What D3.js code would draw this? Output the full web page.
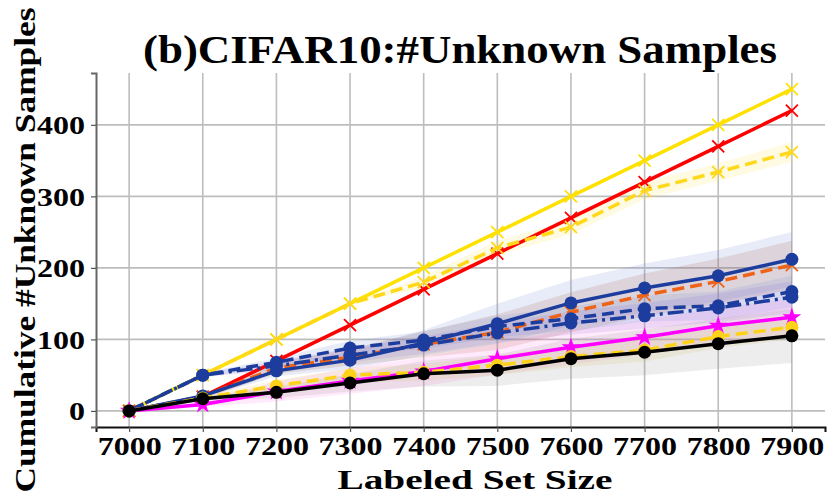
<!DOCTYPE html>
<html>
<head>
<meta charset="utf-8">
<script src="https://cdn.jsdelivr.net/npm/d3@7"></script>
<style>
  body { margin: 0; background: #fff; }
  text { font-family: "Liberation Serif", "DejaVu Serif", serif; font-weight: bold; fill: #000; }
</style>
</head>
<body>
<div class="chart"></div>
<script>
// Data
const sizes = [7000, 7100, 7200, 7300, 7400, 7500, 7600, 7700, 7800, 7900];
const yTicks = [0, 100, 200, 300, 400];

const yellowSolid = [0, 50, 100, 150, 200, 250, 300, 350, 400, 450];
const redSolid = [0, 20, 70, 120, 170, 220, 270, 320, 370, 420];
const yellowDashX = [0, 50, 100, 150, 180, 228, 257, 308, 334, 362];
const yellowDashXStd = [0, 0, 0, 0, 8, 10, 10, 12, 12, 14];
const orangeDash = [0, 20, 60, 75, 93, 110, 138, 162, 181, 204];
const orangeStd = [0, 3, 8, 12, 18, 25, 28, 30, 32, 34];
const blueSolid = [0, 21, 56, 71, 95, 122, 151, 172, 189, 212];
const blueSolidStd = [0, 3, 8, 12, 18, 28, 32, 34, 36, 38];
const blueDashed = [0, 50, 68, 88, 99, 118, 129, 143, 147, 167];
const blueDashedStd = [0, 3, 6, 10, 12, 15, 17, 18, 20, 22];
const blueDashDot = [0, 50, 63, 78, 92, 109, 123, 133, 144, 159];
const blueDashDotStd = [0, 3, 6, 10, 12, 14, 16, 18, 20, 22];
const magenta = [0, 9, 27, 42, 55, 73, 89, 103, 119, 131];
const magentaStd = [0, 3, 14, 18, 20, 22, 24, 24, 25, 26];
const yellowDot = [0, 18, 35, 50, 54, 64, 76, 85, 104, 117];
const yellowDotStd = [0, 3, 8, 10, 12, 14, 15, 16, 16, 17];
const black = [0, 17, 26, 39, 52, 57, 73, 82, 94, 105];
const blackStd = [0, 3, 8, 12, 18, 22, 28, 32, 35, 38];

const W = 831, H = 501;
const margin = { top: 73, right: 6, bottom: 74, left: 96 };
const width = W - margin.left - margin.right;
const height = H - margin.top - margin.bottom;

const root = d3.select('.chart').append('svg')
    .attr('width', W).attr('height', H);
const svg = root.append('g')
    .attr('transform', `translate(${margin.left},${margin.top})`);

const x = d3.scaleLinear().domain([6955, 7945]).range([0, width]);
const y = d3.scaleLinear().domain([-22.5, 472.5]).range([height, 0]);

// grid
svg.append('g').selectAll('line').data(sizes).join('line')
    .attr('x1', d => x(d)).attr('x2', d => x(d))
    .attr('y1', 0).attr('y2', height)
    .attr('stroke', '#bdbdbd').attr('stroke-width', 1.6);
svg.append('g').selectAll('line').data(yTicks).join('line')
    .attr('x1', 0).attr('x2', width)
    .attr('y1', d => y(d)).attr('y2', d => y(d))
    .attr('stroke', '#bdbdbd').attr('stroke-width', 1.6);

// series: bands first, then lines
const series = [
  { v: yellowSolid, color: '#ffe100', dash: null, marker: 'x' },
  { v: redSolid, color: '#ff0000', dash: null, marker: 'x' },
  { v: yellowDashX, s: yellowDashXStd, color: '#ffd81a', band: '#ffe14a', dash: '12,6', marker: 'x' },
  { v: orangeDash, s: orangeStd, color: '#ee6318', band: '#b0502a', dash: '12,6', marker: 'x' },
  { v: blueSolid, s: blueSolidStd, color: '#1c3d9e', band: '#6f86d6', dash: null, marker: 'o' },
  { v: blueDashed, s: blueDashedStd, color: '#1c3d9e', band: '#6f86d6', dash: '12,6', marker: 'o' },
  { v: blueDashDot, s: blueDashDotStd, color: '#1c3d9e', band: '#8a70d8', dash: '16,5,3,5', marker: 'o' },
  { v: magenta, s: magentaStd, color: '#ff00ff', band: '#ff7fe8', dash: null, marker: 'star' },
  { v: yellowDot, s: yellowDotStd, color: '#ffd21a', band: '#d8c860', dash: '12,6', marker: 'o' },
  { v: black, s: blackStd, color: '#000000', band: '#909090', dash: null, marker: 'o' }
];

const area = d3.area()
    .x((d, i) => x(sizes[i]))
    .y0(d => y(d[0] - d[1]))
    .y1(d => y(d[0] + d[1]));
const line = d3.line()
    .x((d, i) => x(sizes[i]))
    .y(d => y(d));

series.filter(s => s.s).forEach(s => {
  svg.append('path')
      .datum(s.v.map((v, i) => [v, s.s[i]]))
      .attr('d', area)
      .attr('fill', s.band)
      .attr('fill-opacity', 0.16);
});

const star = d3.symbol().type(d3.symbolStar).size(110);

series.forEach(s => {
  svg.append('path')
      .datum(s.v)
      .attr('d', line)
      .attr('fill', 'none')
      .attr('stroke', s.color)
      .attr('stroke-width', 3.5)
      .attr('stroke-dasharray', s.dash);
  const g = svg.append('g');
  s.v.forEach((v, i) => {
    const cx = x(sizes[i]), cy = y(v);
    if (s.marker === 'o') {
      g.append('circle').attr('cx', cx).attr('cy', cy).attr('r', 6.5).attr('fill', s.color);
    } else if (s.marker === 'x') {
      g.append('path')
          .attr('d', `M${cx - 6},${cy - 6}L${cx + 6},${cy + 6}M${cx - 6},${cy + 6}L${cx + 6},${cy - 6}`)
          .attr('stroke', s.color).attr('stroke-width', 1.8);
    } else {
      g.append('path').attr('d', star)
          .attr('transform', `translate(${cx},${cy})`)
          .attr('fill', s.color);
    }
  });
});

// axes
const xAxis = svg.append('g')
    .attr('transform', `translate(0,${height})`)
    .call(d3.axisBottom(x).tickValues(sizes).tickFormat(d3.format('d')).tickSize(5).tickPadding(5));
const yAxis = svg.append('g')
    .call(d3.axisLeft(y).tickValues(yTicks).tickSize(5).tickPadding(6));
[xAxis, yAxis].forEach(a => {
  a.selectAll('text').style('font-size', '26px').attr('fill', '#000')
      .attr('lengthAdjust', 'spacingAndGlyphs')
      .attr('textLength', d => String(d).length * 16);
  a.selectAll('line').attr('stroke', '#555').attr('stroke-width', 1.2);
});
xAxis.select('.domain').attr('stroke', '#111').attr('stroke-width', 2);
yAxis.select('.domain').attr('stroke', '#666').attr('stroke-width', 2);
yAxis.selectAll('text').attr('dy', '0.34em');

// titles: height from font size, width stretched to what the picture shows
function label(attrs, size, len, txt) {
  const t = root.append('text')
      .attr('text-anchor', 'middle')
      .style('font-size', size + 'px')
      .attr('lengthAdjust', 'spacingAndGlyphs')
      .attr('textLength', len)
      .text(txt);
  Object.entries(attrs).forEach(([k, v]) => t.attr(k, v));
  return t;
}

label({ x: 460, y: 63 }, 39, 634, '(b)CIFAR10:#Unknown Samples');
label({ x: 475, y: 489 }, 27, 275, 'Labeled Set Size');
label({ transform: 'translate(35,250) rotate(-90)' }, 30, 485, 'Cumulative #Unknown Samples');
</script>
</body>
</html>
